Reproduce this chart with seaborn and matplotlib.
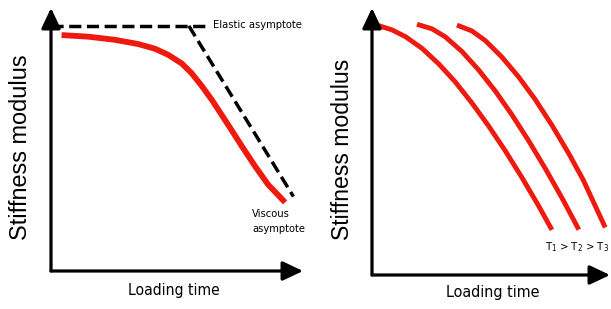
import numpy as np
import pandas as pd
import matplotlib
matplotlib.use("Agg")
import matplotlib.pyplot as plt
import seaborn as sns
from matplotlib import font_manager
from matplotlib.font_manager import FontProperties

# ---------------- data (schematic) ----------------
# Left panel: stiffness vs loading time (single curve + asymptotes)
left_time = [0.42, 1.48, 2.54, 3.46, 4.13, 4.65, 5.19, 5.58, 5.98, 6.38, 6.77,
             7.17, 7.57, 8.10, 8.62, 9.29]
left_stiff = [8.97, 8.91, 8.79, 8.63, 8.45, 8.22, 7.89, 7.52, 7.04, 6.51, 5.94,
              5.35, 4.75, 3.98, 3.28, 2.61]

elastic_time = [0.0, 6.18]
elastic_stiff = [9.32, 9.32]
viscous_time = [5.47, 9.62]
viscous_stiff = [9.32, 2.83]

# Right panel: three temperatures
t1_time = [0.21, 0.84, 1.40, 2.10, 2.80, 3.50, 4.20, 4.90, 5.60, 6.30, 7.00, 7.56]
t1_stiff = [9.36, 9.18, 8.93, 8.49, 7.91, 7.23, 6.44, 5.58, 4.65, 3.65, 2.59, 1.69]
t2_time = [1.89, 2.52, 3.08, 3.78, 4.48, 5.18, 5.88, 6.58, 7.28, 7.98, 8.69]
t2_stiff = [9.39, 9.22, 8.92, 8.37, 7.68, 6.89, 6.00, 5.03, 3.99, 2.89, 1.70]
t3_time = [3.57, 4.20, 4.76, 5.46, 6.16, 6.86, 7.56, 8.26, 8.87, 9.80]
t3_stiff = [9.36, 9.14, 8.78, 8.16, 7.42, 6.57, 5.61, 4.56, 3.57, 1.78]

xlabel = "Loading time"
ylabel = "Stiffness modulus"
elastic_label = "Elastic asymptote"
viscous_label = "Viscous\nasymptote"
temp_label = r"T$_1$ > T$_2$ > T$_3$"

RED = "#ee1a10"
INK = "black"

# ---------------- style ----------------
sns.set_style("white")
plt.rcParams["font.family"] = ["Liberation Sans", "DejaVu Sans"]
plt.rcParams["mathtext.default"] = "regular"
plt.rcParams["text.color"] = INK

# a condensed face for the horizontal labels, if one is installed
narrow_file = None
files = [f.fname for f in font_manager.fontManager.ttflist]
for key in ("LiberationSansNarrow-Regular", "DejaVuSansCondensed.ttf"):
    hits = [p for p in files if key in p]
    if hits:
        narrow_file = hits[0]
        break

def nprop(size):
    if narrow_file:
        return FontProperties(fname=narrow_file, size=size)
    return FontProperties(family=["Liberation Sans", "DejaVu Sans"], size=size)

W, H = 611, 309
fig = plt.figure(figsize=(W / 100, H / 100), dpi=100)

def px_axes(x0, y0, x1, y1):
    return fig.add_axes([x0 / W, (H - y0) / H, (x1 - x0) / W, (y0 - y1) / H])

axL = px_axes(51, 271, 303, 8)
axR = px_axes(372, 275, 610, 8)

for ax in (axL, axR):
    ax.set_xlim(0, 10)
    ax.set_ylim(0, 10)
    ax.set_xticks([])
    ax.set_yticks([])
    for s in ax.spines.values():
        s.set_visible(False)
    ax.patch.set_alpha(0)
    arrow = dict(arrowstyle="-|>,head_length=0.95,head_width=0.45", lw=2.3,
                 color=INK, shrinkA=0, shrinkB=0, mutation_scale=13)
    ax.annotate("", xy=(1, 0), xytext=(0, 0), xycoords="axes fraction",
                textcoords="axes fraction", arrowprops=arrow, annotation_clip=False)
    ax.annotate("", xy=(0, 1), xytext=(0, 0), xycoords="axes fraction",
                textcoords="axes fraction", arrowprops=arrow, annotation_clip=False)

# ---- left panel ----
sns.lineplot(x=elastic_time, y=elastic_stiff, ax=axL, color=INK, lw=2.5,
             sort=False, estimator=None)
sns.lineplot(x=viscous_time, y=viscous_stiff, ax=axL, color=INK, lw=2.5,
             sort=False, estimator=None)
for l in axL.lines:
    l.set_dashes([3.5, 1.6])
sns.lineplot(x=left_time, y=left_stiff, ax=axL, color=RED, lw=4.2,
             sort=False, estimator=None, solid_capstyle="butt",
             solid_joinstyle="round")

t_el = axL.text(6.43, 9.36, elastic_label, fontproperties=nprop(9.5),
                va="center", ha="left", color=INK)
t_vi = axL.text(7.98, 1.88, viscous_label, fontproperties=nprop(9.5),
                va="center", ha="left", linespacing=1.6, color=INK)

# ---- right panel ----
for tx, sy in ((t1_time, t1_stiff), (t2_time, t2_stiff), (t3_time, t3_stiff)):
    sns.lineplot(x=tx, y=sy, ax=axR, color=RED, lw=3.5, sort=False, estimator=None,
                 solid_capstyle="butt", solid_joinstyle="round")
t_T = axR.text(9.98, 1.05, temp_label, fontproperties=nprop(10),
               va="center", ha="right", color=INK)

# ---- axis labels ----
xl_L = axL.text(0.488, -0.076, xlabel, transform=axL.transAxes, ha="center",
                va="center", fontproperties=nprop(13), color=INK)
xl_R = axR.text(0.508, -0.066, xlabel, transform=axR.transAxes, ha="center",
                va="center", fontproperties=nprop(13), color=INK)
yl_L = axL.text(-0.123, 0.471, ylabel, transform=axL.transAxes, ha="center",
                va="center", rotation=90, fontsize=16, color=INK)
yl_R = axR.text(-0.126, 0.472, ylabel, transform=axR.transAxes, ha="center",
                va="center", rotation=90, fontsize=16, color=INK)

# scale text sizes so that their extents match the reference
fig.canvas.draw()
r = fig.canvas.get_renderer()
def fit(t, target, vertical=False):
    bb = t.get_window_extent(r)
    cur = bb.height if vertical else bb.width
    t.set_fontsize(t.get_fontsize() * target / cur)

fit(t_el, 90)
fit(t_vi, 54)
fit(t_T, 64)
fit(xl_L, 92)
fit(xl_R, 94)
fit(yl_L, 185, vertical=True)
fit(yl_R, 182, vertical=True)

fig.savefig("out.png", dpi=100, facecolor="white")
